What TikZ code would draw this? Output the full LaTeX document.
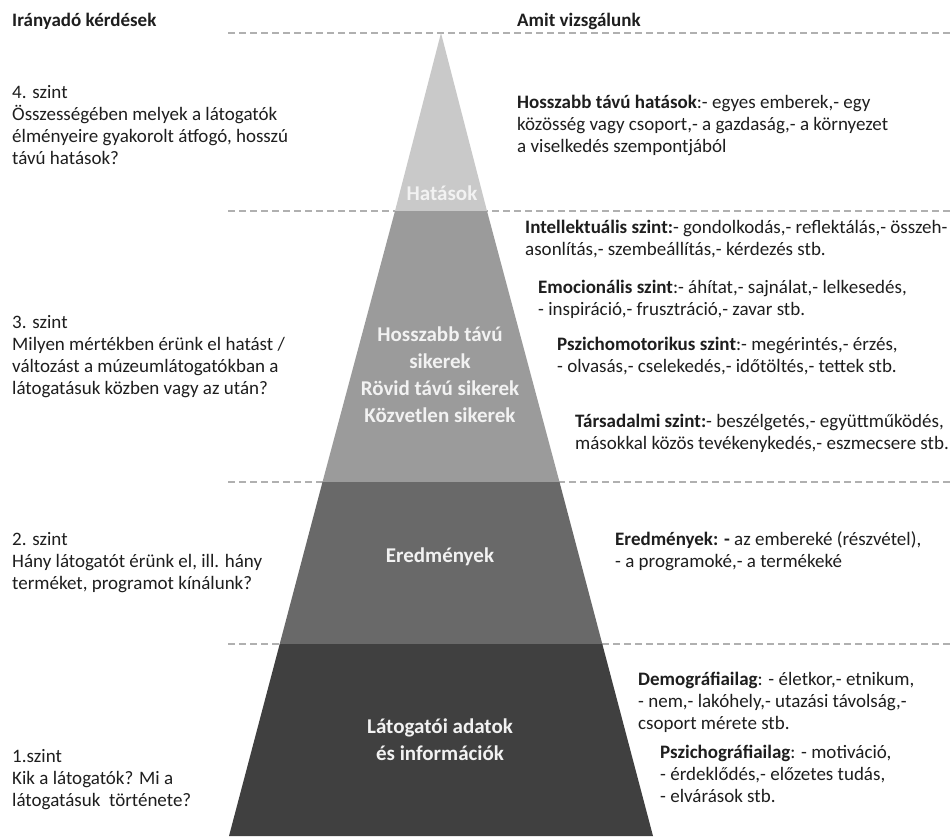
\documentclass[tikz,border=0pt]{standalone}
\usepackage{fontspec}
\setmainfont{Carlito}
\definecolor{c1}{HTML}{C9C9C9}
\definecolor{c2}{HTML}{9B9B9B}
\definecolor{c3}{HTML}{696969}
\definecolor{c4}{HTML}{404040}
\definecolor{dashc}{HTML}{B0B0B0}
\definecolor{textc}{HTML}{1E1E1E}
\definecolor{lblc}{HTML}{F2F2F2}
\begin{document}
\begin{tikzpicture}[x=1pt,y=-1pt,
  txt/.style={anchor=base west, align=left, inner sep=0pt, font=\fontsize{19}{22}\selectfont, text=textc},
  hdr/.style={anchor=base west, inner sep=0pt, font=\fontsize{19}{22}\selectfont\bfseries, text=textc},
  lbl/.style={align=center, inner sep=0pt, font=\fontsize{21}{27}\selectfont\bfseries, text=lblc},
  dline/.style={draw=dashc, line width=1.3pt, dash pattern=on 7pt off 4pt}]
\useasboundingbox (0,0) rectangle (950,836);
\fill[white] (0,0) rectangle (950,836);
% dashed level lines
\foreach \yy in {33,211,482,644}{\draw[dline] (228,\yy) -- (950,\yy);}
% pyramid bands
\fill[c1] (441,33) -- (487,211) -- (395,211) -- cycle;
\fill[c2] (395,211) -- (487,211) -- (559.5,482) -- (322.5,482) -- cycle;
\fill[c3] (322.5,482) -- (559.5,482) -- (602.3,644) -- (279.7,644) -- cycle;
\fill[c4] (279.7,644) -- (602.3,644) -- (653,836) -- (229,836) -- cycle;
% pyramid labels (base anchor = last line)
\node[lbl] (hat) at (442,193) {Hatások};
\node[lbl, anchor=base] (siker) at (440,422) {Hosszabb távú\\sikerek\\Rövid távú sikerek\\Közvetlen sikerek};
\node[lbl] (ered) at (440,557) {Eredmények};
\node[lbl, anchor=base] (lat) at (440,760) {Látogatói adatok\\és információk};
% headers
\node[hdr] (h1) at (12,26) {Irányadó kérdések};
\node[hdr] (h2) at (517,26) {Amit vizsgálunk};
% left questions (base anchor = last line)
\node[txt] (q4) at (12,164) {4. szint\\Összességében melyek a látogatók\\élményeire gyakorolt átfogó, hosszú\\távú hatások?};
\node[txt] (q3) at (12,394) {3. szint\\Milyen mértékben érünk el hatást /\\változást a múzeumlátogatókban a\\látogatásuk közben vagy az után?};
\node[txt] (q2) at (12,589) {2. szint\\Hány látogatót érünk el, ill. hány\\terméket, programot kínálunk?};
\node[txt] (q1) at (12,806) {1.szint\\Kik a látogatók? Mi a\\látogatásuk\ \ története?};
% right descriptions
\node[txt] (r4) at (517,152) {\textbf{Hosszabb távú hatások}:- egyes emberek,- egy\\közösség vagy csoport,- a gazdaság,- a környezet\\a viselkedés szempontjából};
\node[txt] (r3a) at (525,255) {\textbf{Intellektuális szint:}- gondolkodás,- reflektálás,- összeh-\\asonlítás,- szembeállítás,- kérdezés stb.};
\node[txt] (r3b) at (538,315) {\textbf{Emocionális szint}:- áhítat,- sajnálat,- lelkesedés,\\- inspiráció,- frusztráció,- zavar stb.};
\node[txt] (r3c) at (557,372) {\textbf{Pszichomotorikus szint}:- megérintés,- érzés,\\- olvasás,- cselekedés,- időtöltés,- tettek stb.};
\node[txt] (r3d) at (575,449) {\textbf{Társadalmi szint:}- beszélgetés,- együttműködés,\\másokkal közös tevékenykedés,- eszmecsere stb.};
\node[txt] (r2) at (615,567) {\textbf{Eredmények: -} az embereké (részvétel),\\- a programoké,- a termékeké};
\node[txt] (r1a) at (638,729) {\textbf{Demográfiailag}: - életkor,- etnikum,\\- nem,- lakóhely,- utazási távolság,-\\csoport mérete stb.};
\node[txt] (r1b) at (660,802) {\textbf{Pszichográfiailag}: - motiváció,\\- érdeklődés,- előzetes tudás,\\- elvárások stb.};
\end{tikzpicture}
\end{document}
